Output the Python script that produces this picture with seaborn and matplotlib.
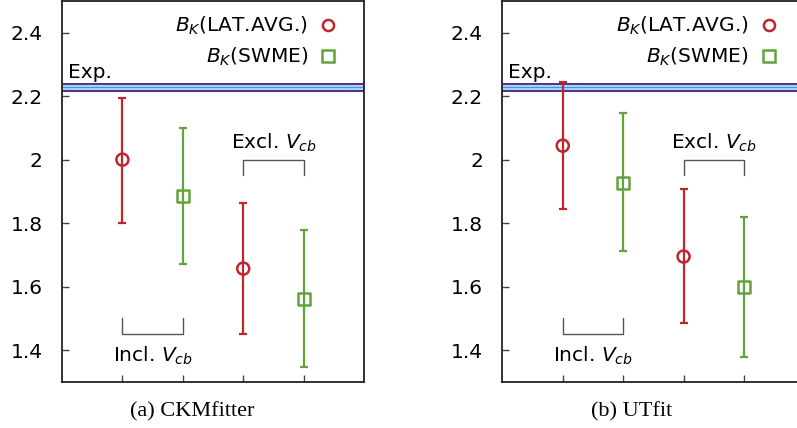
import matplotlib
matplotlib.use("Agg")
import matplotlib.pyplot as plt
import pandas as pd
import seaborn as sns
from matplotlib.lines import Line2D

# data
positions = [1, 2, 3, 4]
methods = ["LAT.AVG.", "SWME", "LAT.AVG.", "SWME"]

ckm_center = [2.000, 1.885, 1.657, 1.561]
ckm_low = [1.800, 1.670, 1.450, 1.346]
ckm_high = [2.195, 2.099, 1.865, 1.777]

utfit_center = [2.044, 1.927, 1.695, 1.599]
utfit_low = [1.844, 1.711, 1.485, 1.380]
utfit_high = [2.244, 2.146, 1.907, 1.818]

exp_low = 2.217
exp_center = 2.228
exp_high = 2.239

yticks = [1.4, 1.6, 1.8, 2.0, 2.2, 2.4]
ytick_labels = ["1.4", "1.6", "1.8", "2", "2.2", "2.4"]
captions = ["(a) CKMfitter", "(b) UTfit"]

red = "#c0262d"
green = "#63a33c"
colors = {"LAT.AVG.": red, "SWME": green}
markers = {"LAT.AVG.": "o", "SWME": "s"}

sns.set_style("ticks")
plt.rcParams["font.family"] = ["DejaVu Sans"]
plt.rcParams["mathtext.fontset"] = "dejavusans"
plt.rcParams["text.color"] = "black"
plt.rcParams["ytick.labelcolor"] = "black"

FS = 14.5

fig = plt.figure(figsize=(7.97, 4.28), dpi=100)
ax_left = fig.add_axes([0.0778, 0.1075, 0.379, 0.8905])
ax_right = fig.add_axes([0.6303, 0.1075, 0.379, 0.8905])


def draw_panel(ax, center, low, high, caption, cx):
    df = pd.DataFrame({"x": positions, "y": center, "lo": low, "hi": high, "method": methods})
    for _, r in df.iterrows():
        ax.errorbar(r["x"], r["y"], yerr=[[r["y"] - r["lo"]], [r["hi"] - r["y"]]],
                    fmt="none", ecolor=colors[r["method"]], elinewidth=1.6,
                    capsize=3, capthick=1.6, zorder=3)
    n_before = len(ax.collections)
    sns.scatterplot(data=df, x="x", y="y", hue="method", style="method",
                    palette=colors, markers=markers, s=75,
                    linewidth=1.8, legend=False, ax=ax, zorder=4)
    # hollow markers
    for coll in ax.collections[n_before:]:
        coll.set_edgecolors([colors[m] for m in df["method"]])
        coll.set_facecolors("none")

    # experimental band
    ax.axhspan(exp_low, exp_high, color="#9fd9f2", zorder=1, lw=0)
    ax.axhline(exp_low, color="#5b2a8c", lw=1.4, zorder=2)
    ax.axhline(exp_high, color="#5b2a8c", lw=1.4, zorder=2)
    ax.axhline(exp_center, color="#4f8fd8", lw=0.8, zorder=2)
    ax.text(0.1, 2.257, "Exp.", fontsize=FS, ha="left", va="baseline")

    # brackets
    ax.plot([3, 3, 4, 4], [1.953, 2.0, 2.0, 1.953], color="#555555", lw=1.0)
    ax.text(3.5, 2.035, "Excl. $V_{cb}$", fontsize=FS, ha="center", va="baseline")
    ax.plot([1, 1, 2, 2], [1.5, 1.45, 1.45, 1.5], color="#555555", lw=1.0)
    ax.text(1.5, 1.363, "Incl. $V_{cb}$", fontsize=FS, ha="center", va="baseline")

    handles = [
        Line2D([], [], ls="none", marker="o", mfc="none", mec=red, mew=1.8, ms=8,
               label="$B_K$(LAT.AVG.)"),
        Line2D([], [], ls="none", marker="s", mfc="none", mec=green, mew=1.8, ms=8,
               label="$B_K$(SWME)"),
    ]
    ax.legend(handles=handles, loc="upper right", bbox_to_anchor=(0.975, 1.01),
              markerfirst=False, frameon=False, fontsize=FS, handlelength=1.0,
              handletextpad=0.5, labelspacing=0.42)

    ax.set_xlim(0, 5)
    ax.set_ylim(1.3, 2.5)
    ax.set_xticks(positions)
    ax.set_xticklabels([""] * 4)
    ax.set_yticks(yticks)
    ax.set_yticklabels(ytick_labels)
    ax.tick_params(axis="both", direction="in", length=5, width=1.0, color="#444444",
                   labelsize=FS, labelcolor="black", pad=14)
    ax.set_xlabel("")
    ax.set_ylabel("")
    for sp in ax.spines.values():
        sp.set_visible(True)
        sp.set_linewidth(1.3)
        sp.set_color("#222222")
    fig.text(cx, 0.028, caption, fontsize=16, family="Liberation Serif",
             ha="center", va="baseline")


draw_panel(ax_left, ckm_center, ckm_low, ckm_high, captions[0], 0.241)
draw_panel(ax_right, utfit_center, utfit_low, utfit_high, captions[1], 0.793)

fig.savefig("out.png", dpi=100)
